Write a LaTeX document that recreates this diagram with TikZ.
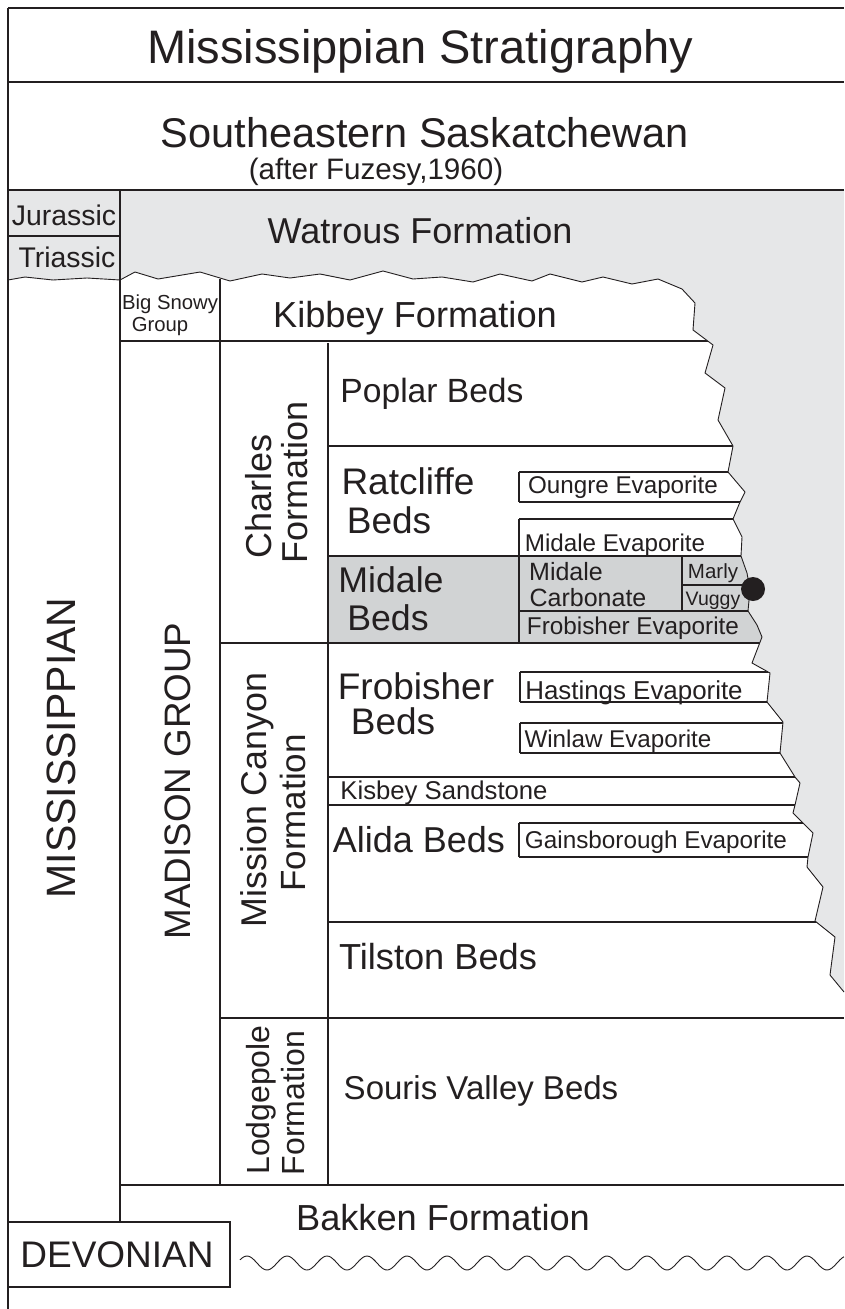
\documentclass[tikz,border=0pt]{standalone}
\usepackage{fontspec}
\setmainfont{Liberation Sans}
\definecolor{ink}{HTML}{231F20}
\definecolor{bandgrey}{HTML}{E6E7E8}
\definecolor{midgrey}{HTML}{D1D3D4}
\newcommand\lab[5]{\node[lbl, font=\fontsize{#4}{#4}\selectfont, anchor=base] (#1) at (#2,{#3+0.358*#4}) {#5};}
\newcommand\rlab[5]{\node[lbl, font=\fontsize{#4}{#4}\selectfont, anchor=base, rotate=90] (#1) at ({#2+0.358*#4},#3) {#5};}
\def\edgepts{(8,280) -- (25,277) -- (53,280) -- (87,278) -- (120,280) -- (135,272) -- (158,279) -- (200,272) -- (230,281) -- (262,274) -- (290,278) -- (320,274) -- (350,280) -- (383,271) -- (413,279) -- (442,277) -- (473,282) -- (500,274) -- (532,281) -- (550,274) -- (582,282) -- (603,277) -- (632,284) -- (658,279) -- (682,289) -- (695,303) -- (693,330) -- (713,345) -- (705,373) -- (725,388) -- (718,420) -- (733,446) -- (728,472) -- (745,492) -- (740,502) -- (733,519) -- (742,537) -- (741,556) -- (747,573) -- (750,590) -- (748,611) -- (757,625) -- (762,637) -- (752,663) -- (770,673) -- (767,702) -- (783,722) -- (780,753) -- (795,777) -- (800,783) -- (795,805) -- (793,813) -- (813,833) -- (808,857) -- (807,867) -- (823,887) -- (815,921) -- (835,937) -- (830,975) -- (844,992)}
\begin{document}
\begin{tikzpicture}[x=1pt,y=-1pt,
  lbl/.style={inner sep=0pt, text=ink},
  rule/.style={draw=ink, line width=1.1pt},
  edge/.style={draw=ink, line width=0.9pt, line join=round},
  wavy/.style={draw=ink, line width=0.9pt}]
\useasboundingbox (0,0) rectangle (844,1309);
\fill[white] (0,0) rectangle (844,1309);
% Midale beds shading
\fill[midgrey] (328,556) rectangle (844,643);
% horizontal rules (right ends hidden under grey)
\draw[rule] (8,82) -- (844,82);
\draw[rule] (120,341) -- (844,341);
\draw[rule] (328,446) -- (844,446);
\draw[rule] (519,472) -- (844,472) (519,502) -- (844,502) (519,472) -- (519,502);
\draw[rule] (519,519) -- (844,519) (519,519) -- (519,643);
\draw[rule] (328,556) -- (844,556);
\draw[rule] (682,556) -- (682,611) (682,585) -- (844,585);
\draw[rule] (519,611) -- (844,611);
\draw[rule] (220,643) -- (844,643);
\draw[rule] (520,672) -- (844,672) (520,702) -- (844,702) (520,672) -- (520,702);
\draw[rule] (520,723) -- (844,723) (520,753) -- (844,753) (520,723) -- (520,753);
\draw[rule] (328,777) -- (844,777) (328,805) -- (844,805);
\draw[rule] (519,823) -- (844,823) (519,857) -- (844,857) (519,823) -- (519,857);
\draw[rule] (328,922) -- (844,922);
\draw[rule] (220,1018) -- (844,1018);
\draw[rule] (120,1185) -- (844,1185);
% vertical rules
\draw[rule] (120,280) -- (120,1222);
\draw[rule] (220,279) -- (220,1185);
\draw[rule] (328,343) -- (328,1185);
% grey band and unconformity region
\fill[bandgrey] \edgepts -- (844,190) -- (8,190) -- cycle;
\draw[edge] \edgepts;
\draw[rule] (8,190) -- (844,190);
\draw[rule] (120,190) -- (120,280);
\draw[rule] (8,236) -- (120,236);
% frame
\draw[rule] (8,8) -- (844,8);
\draw[rule] (8,8) -- (8,1309);
% Devonian box and wavy contact
\draw[rule] (8,1222) rectangle (230,1287);
\draw[wavy, domain=240:844, samples=300, smooth] plot (\x, {1263-7*cos(9*(\x-247))});
% texts
\lab{title}{420}{47}{47}{Mississippian Stratigraphy}
\lab{sub}{425}{133}{41.5}{Southeastern Saskatchewan}
\lab{after}{376}{169}{29.6}{(after Fuzesy,1960)}
\lab{watrous}{420}{231}{36}{Watrous Formation}
\lab{jur}{64}{215}{28.4}{Jurassic}
\lab{tri}{67}{257}{28.4}{Triassic}
\lab{bigsnowy}{170}{302}{20.3}{Big Snowy}
\lab{group}{160}{324}{20.3}{Group}
\lab{kibbey}{415}{315}{36.2}{Kibbey Formation}
\rlab{miss}{61}{748}{41}{MISSISSIPPIAN}
\rlab{madison}{177}{781}{36.8}{MADISON GROUP}
\rlab{charles}{258.5}{496}{36}{Charles}
\rlab{charlesf}{295}{482}{36}{Formation}
\rlab{mission}{254}{800}{35.8}{Mission Canyon}
\rlab{missionf}{292.5}{813}{35}{Formation}
\rlab{lodge}{258}{1100}{32}{Lodgepole}
\rlab{lodgef}{293}{1103}{32}{Formation}
\lab{poplar}{432}{390}{33.6}{Poplar Beds}
\lab{ratcliffe}{408}{481}{37}{Ratcliffe}
\lab{ratbeds}{389}{520}{37}{Beds}
\lab{midale}{391}{580}{35.7}{Midale}
\lab{midbeds}{388}{618}{35.7}{Beds}
\lab{frob}{416}{686}{37}{Frobisher}
\lab{frobbeds}{393}{721}{37}{Beds}
\lab{kisbey}{444}{790}{25.7}{Kisbey Sandstone}
\lab{alida}{419}{840}{36}{Alida Beds}
\lab{tilston}{438}{957}{36.2}{Tilston Beds}
\lab{souris}{481}{1088}{33}{Souris Valley Beds}
\lab{bakken}{443}{1218}{36.2}{Bakken Formation}
\lab{devonian}{117}{1254}{37}{DEVONIAN}
\lab{oungre}{623}{485}{24.2}{Oungre Evaporite}
\lab{midevap}{615}{543}{24.2}{Midale Evaporite}
\lab{midcarb}{566}{572}{25}{Midale}
\lab{carb}{588}{598}{25}{Carbonate}
\lab{marly}{713}{571}{20.5}{Marly}
\lab{vuggy}{713}{599}{19.5}{Vuggy}
\lab{frobevap}{633}{626}{24.3}{Frobisher Evaporite}
\lab{hastings}{634}{690}{25.9}{Hastings Evaporite}
\lab{winlaw}{618}{739}{24.2}{Winlaw Evaporite}
\lab{gains}{656}{840}{24.3}{Gainsborough Evaporite}
% sample location dot
\fill[ink] (753,589) circle (12);
\end{tikzpicture}
\end{document}
